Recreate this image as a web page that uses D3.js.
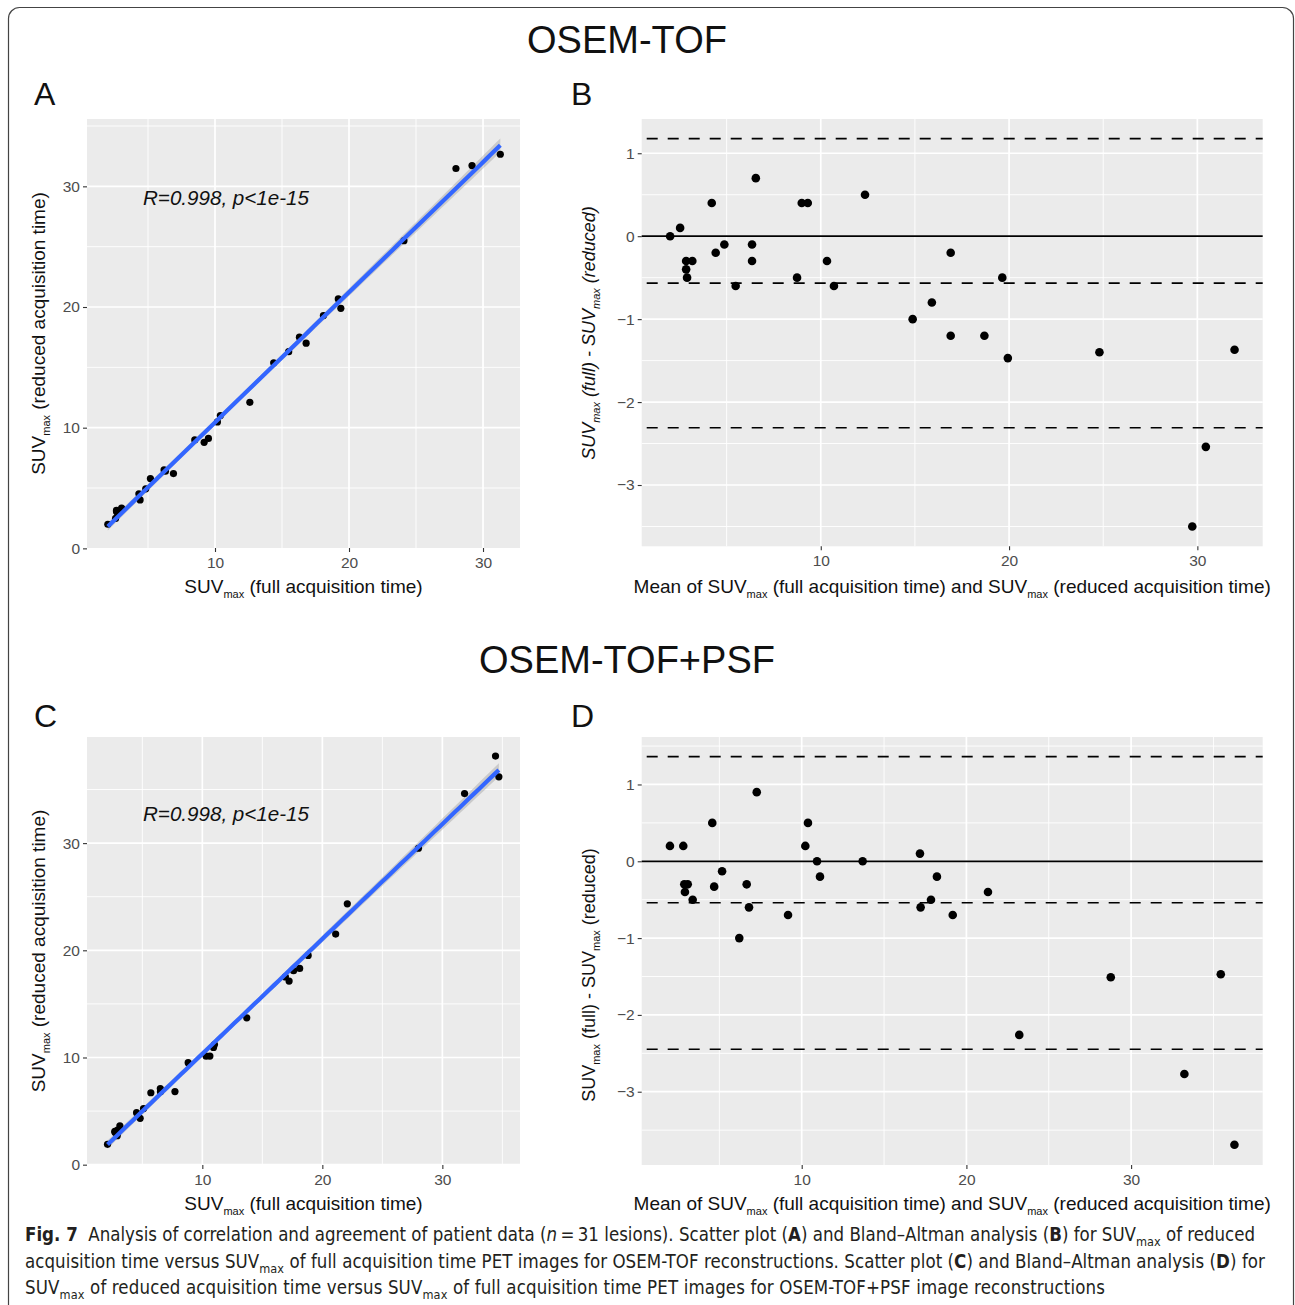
<!DOCTYPE html>
<html><head><meta charset="utf-8">
<script src="https://cdn.jsdelivr.net/npm/d3@7"></script>
<style>body{margin:0;background:#fff}</style>
</head><body><svg id="c" width="1295" height="1305"></svg>
<script>
// ---------------- DATA ----------------
// OSEM-TOF: SUVmax full vs reduced acquisition time (one entry per lesion)
const tofFull    = [2.00,2.58,2.70,3.03,2.65,2.65,4.41,4.32,4.83,5.18,6.90,6.30,6.20,8.49,9.19,9.51,10.18,10.40,12.60,14.38,16.80,19.39,15.50,16.30,18.09,19.20,24.10,31.29,29.18,27.98];
const tofReduced = [2.00,2.48,3.00,3.33,3.05,3.15,4.01,4.52,4.93,5.78,6.20,6.40,6.50,8.99,8.79,9.11,10.48,11.00,12.10,15.38,17.00,19.89,16.30,17.50,19.29,20.67,25.50,32.66,31.72,31.48];
// OSEM-TOF+PSF
const psfFull    = [2.10,2.91,2.72,2.93,2.71,3.13,4.82,4.52,5.10,5.71,7.72,6.51,6.50,8.82,10.32,10.63,10.93,11.01,13.70,17.23,16.92,17.60,18.11,18.82,21.11,22.08,28.01,34.71,31.85,34.43];
const psfReduced = [1.90,2.71,3.02,3.23,3.11,3.63,4.32,4.85,5.23,6.71,6.82,6.81,7.10,9.52,10.12,10.13,10.93,11.21,13.70,17.13,17.52,18.10,18.31,19.52,21.51,24.34,29.52,36.18,34.62,38.12];
// Bland-Altman lines [OSEM-TOF, OSEM-TOF+PSF]
const baBias  = [-0.566, -0.539];
const baUpper = [1.176, 1.362];
const baLower = [-2.310, -2.448];
const corrLabels = ["R=0.998, p<1e-15", "R=0.998, p<1e-15"];
const titles = ["OSEM-TOF", "OSEM-TOF+PSF"];
const letters = [["A","B"],["C","D"]];
const scatterXTicks = [10,20,30];
const scatterYTicks = [0,10,20,30];
const baXTicks = [10,20,30];
const baYTicks = [-3,-2,-1,0,1];

// ---------------- LAYOUT ----------------
const F = "'Liberation Sans', Arial, Helvetica, sans-serif";
const CF = "'Liberation Sans Narrow', 'DejaVu Sans Condensed', 'Liberation Sans', sans-serif";
const rows = [
  {full: tofFull, red: tofReduced,
   sc: {l:87, r:520, t:119, b:548, x:[0.448,32.76], y:[0.03,35.58]},
   ba: {l:641.7, r:1262.7, t:119, b:546.3, x:[0.49,33.47], y:[-3.739,1.413]},
   titleY:53, letterY:105, annY:205, baItalic:true, baLabelCY:333},
  {full: psfFull, red: psfReduced,
   sc: {l:87, r:520, t:737, b:1165, x:[0.39,36.47], y:[-0.03,39.9]},
   ba: {l:641.7, r:1262.7, t:737, b:1165, x:[0.285,37.99], y:[-3.954,1.618]},
   titleY:673, letterY:727, annY:821, baItalic:false, baLabelCY:975}
];

const svg = d3.select("#c");
svg.append("rect").attr("width",1295).attr("height",1305).attr("fill","#fff");
svg.append("rect").attr("x",8.5).attr("y",7.5).attr("width",1285).attr("height",1340)
  .attr("rx",11).attr("fill","none").attr("stroke","#444").attr("stroke-width",1.2);

function isMult(v, s){ return Math.abs(v/s - Math.round(v/s)) < 1e-6; }

function panel(p, xTicks, yTicks){
  const x = d3.scaleLinear().domain(p.x).range([p.l,p.r]);
  const y = d3.scaleLinear().domain(p.y).range([p.b,p.t]);
  const g = svg.append("g");
  g.append("rect").attr("x",p.l).attr("y",p.t).attr("width",p.r-p.l).attr("height",p.b-p.t).attr("fill","#EBEBEB");
  const xs = xTicks[1]-xTicks[0], ys = yTicks[1]-yTicks[0];
  const xl = d3.range(Math.ceil(p.x[0]/(xs/2))*(xs/2), p.x[1], xs/2);
  const yl = d3.range(Math.ceil(p.y[0]/(ys/2))*(ys/2), p.y[1], ys/2);
  g.selectAll(null).data(xl.filter(v=>!isMult(v,xs))).enter().append("line")
    .attr("x1",d=>x(d)).attr("x2",d=>x(d)).attr("y1",p.t).attr("y2",p.b).attr("stroke","#fff").attr("stroke-width",0.9);
  g.selectAll(null).data(yl.filter(v=>!isMult(v,ys))).enter().append("line")
    .attr("y1",d=>y(d)).attr("y2",d=>y(d)).attr("x1",p.l).attr("x2",p.r).attr("stroke","#fff").attr("stroke-width",0.9);
  g.selectAll(null).data(xl.filter(v=>isMult(v,xs))).enter().append("line")
    .attr("x1",d=>x(d)).attr("x2",d=>x(d)).attr("y1",p.t).attr("y2",p.b).attr("stroke","#fff").attr("stroke-width",1.7);
  g.selectAll(null).data(yl.filter(v=>isMult(v,ys))).enter().append("line")
    .attr("y1",d=>y(d)).attr("y2",d=>y(d)).attr("x1",p.l).attr("x2",p.r).attr("stroke","#fff").attr("stroke-width",1.7);
  const fmt = d3.format("d");
  const ax = g.append("g").attr("transform",`translate(0,${p.b})`)
    .call(d3.axisBottom(x).tickValues(xTicks).tickFormat(fmt).tickSize(4).tickPadding(5));
  const ay = g.append("g").attr("transform",`translate(${p.l},0)`)
    .call(d3.axisLeft(y).tickValues(yTicks).tickFormat(fmt).tickSize(4).tickPadding(3));
  [ax,ay].forEach(a=>{
    a.select(".domain").remove();
    a.attr("font-family",F).attr("font-size",15.5);
    a.selectAll("line").attr("stroke","#333").attr("stroke-width",1.1);
    a.selectAll("text").attr("fill","#4D4D4D");
  });
  return {x,y,g};
}

function richText(sel, parts, subSize){
  let shifted = false;
  parts.forEach(([t,k])=>{
    const ts = sel.append("tspan").text(t);
    if(k==='s'){ ts.attr("font-size",subSize).attr("dy", shifted?0:4.5); shifted=true; }
    else { if(shifted){ ts.attr("dy",-4.5); shifted=false; } }
    if(k==='b') ts.attr("font-weight","bold");
    if(k==='i') ts.attr("font-style","italic");
  });
  return sel;
}

rows.forEach((row, ri)=>{
  svg.append("text").attr("x",627).attr("y",row.titleY).attr("text-anchor","middle")
    .attr("font-family",F).attr("font-size",38).attr("fill","#111").text(titles[ri]);
  svg.append("text").attr("x",34).attr("y",row.letterY).attr("font-family",F).attr("font-size",32).attr("fill","#111").text(letters[ri][0]);
  svg.append("text").attr("x",571).attr("y",row.letterY).attr("font-family",F).attr("font-size",32).attr("fill","#111").text(letters[ri][1]);

  // ---- Scatter ----
  const sp = row.sc;
  const S = panel(sp, scatterXTicks, scatterYTicks);
  const pts = row.full.map((f,i)=>({f, r: row.red[i]}));
  const n = pts.length;
  const mx = d3.mean(pts,d=>d.f), my = d3.mean(pts,d=>d.r);
  const sxx = d3.sum(pts,d=>(d.f-mx)**2), sxy = d3.sum(pts,d=>(d.f-mx)*(d.r-my));
  const b = sxy/sxx, a = my - b*mx;
  const s2 = d3.sum(pts,d=>(d.r-a-b*d.f)**2)/(n-2);
  const tcrit = 2.048;
  const [xmin,xmax] = d3.extent(pts,d=>d.f);
  const grid = d3.range(0,81).map(i=>xmin+(xmax-xmin)*i/80);
  const band = grid.map(xv=>{ const yh=a+b*xv; const se=Math.sqrt(s2*(1/n+(xv-mx)**2/sxx)); return {xv, yh, lo:yh-tcrit*se, hi:yh+tcrit*se}; });
  S.g.append("path").datum(band).attr("fill","#999").attr("fill-opacity",0.4)
    .attr("d", d3.area().x(d=>S.x(d.xv)).y0(d=>S.y(d.lo)).y1(d=>S.y(d.hi)));
  S.g.selectAll(null).data(pts).enter().append("circle")
    .attr("cx",d=>S.x(d.f)).attr("cy",d=>S.y(d.r)).attr("r",3.6).attr("fill","#000");
  S.g.append("path").datum(band).attr("fill","none").attr("stroke","#3366FF").attr("stroke-width",4.2)
    .attr("d", d3.line().x(d=>S.x(d.xv)).y(d=>S.y(d.yh)));
  S.g.append("text").attr("x",143).attr("y",row.annY).attr("font-family",F).attr("font-style","italic")
    .attr("font-size",20).attr("fill","#111").attr("textLength",166).attr("lengthAdjust","spacingAndGlyphs").text(corrLabels[ri]);
  richText(svg.append("text").attr("x",(sp.l+sp.r)/2).attr("y",sp.b+45).attr("text-anchor","middle")
    .attr("font-family",F).attr("font-size",19).attr("fill","#111").style("white-space","pre"),
    [["SUV",""],["max","s"],[" (full acquisition time)",""]], 11);
  richText(svg.append("text").attr("transform",`translate(45,${(sp.t+sp.b)/2}) rotate(-90)`).attr("text-anchor","middle")
    .attr("font-family",F).attr("font-size",19).attr("fill","#111").style("white-space","pre"),
    [["SUV",""],["max","s"],[" (reduced acquisition time)",""]], 11);

  // ---- Bland-Altman ----
  const bp = row.ba;
  const B = panel(bp, baXTicks, baYTicks);
  const ba = pts.map(d=>({m:(d.f+d.r)/2, d:d.f-d.r}));
  B.g.append("line").attr("x1",bp.l).attr("x2",bp.r).attr("y1",B.y(0)).attr("y2",B.y(0)).attr("stroke","#000").attr("stroke-width",1.7);
  [baUpper[ri], baBias[ri], baLower[ri]].forEach(v=>{
    B.g.append("line").attr("x1",bp.l).attr("x2",bp.r).attr("y1",B.y(v)).attr("y2",B.y(v))
      .attr("stroke","#000").attr("stroke-width",1.6).attr("stroke-dasharray","11,10").attr("stroke-dashoffset",-5);
  });
  B.g.selectAll(null).data(ba).enter().append("circle")
    .attr("cx",d=>B.x(d.m)).attr("cy",d=>B.y(d.d)).attr("r",4.3).attr("fill","#000");
  richText(svg.append("text").attr("x",(bp.l+bp.r)/2).attr("y",sp.b+45).attr("text-anchor","middle")
    .attr("font-family",F).attr("font-size",19).attr("fill","#111").style("white-space","pre"),
    [["Mean of SUV",""],["max","s"],[" (full acquisition time) and SUV",""],["max","s"],[" (reduced acquisition time)",""]], 11);
  const yl = richText(svg.append("text").attr("transform",`translate(595,${row.baLabelCY}) rotate(-90)`).attr("text-anchor","middle")
    .attr("font-family",F).attr("font-size",18).attr("fill","#111").style("white-space","pre"),
    [["SUV",""],["max","s"],[" (full) - SUV",""],["max","s"],[" (reduced)",""]], 11);
  if(row.baItalic) yl.attr("font-style","italic");
});

// ---------------- CAPTION ----------------
const captionLines = [
  {y:1241, w:1231, parts:[["Fig. 7","b"],["  Analysis of correlation and agreement of patient data (",""],["n","i"],["\u2009=\u200931 lesions). Scatter plot (",""],["A","b"],[") and Bland\u2013Altman analysis (",""],["B","b"],[") for SUV",""],["max","s"],[" of reduced",""]]},
  {y:1268, w:1240, parts:[["acquisition time versus SUV",""],["max","s"],[" of full acquisition time PET images for OSEM-TOF reconstructions. Scatter plot (",""],["C","b"],[") and Bland\u2013Altman analysis (",""],["D","b"],[") for",""]]},
  {y:1294, w:1080, parts:[["SUV",""],["max","s"],[" of reduced acquisition time versus SUV",""],["max","s"],[" of full acquisition time PET images for OSEM-TOF+PSF image reconstructions",""]]}
];
const capTexts = captionLines.map(L=>{
  const t = svg.append("text").attr("x",25).attr("y",L.y).attr("font-family",CF).attr("font-size",19)
    .attr("fill","#231F20").style("white-space","pre");
  richText(t, L.parts, 13);
  return t;
});
// fit caption font size to line 1, then small letter-spacing tweaks for the other lines
const w1 = capTexts[0].node().getComputedTextLength();
const fs = 19 * captionLines[0].w / w1;
capTexts.forEach((t,i)=>{
  t.attr("font-size", fs);
  t.selectAll("tspan").filter(function(){ return this.getAttribute("font-size"); }).attr("font-size", fs*0.68);
  if(i>0){
    const w = t.node().getComputedTextLength();
    const chars = t.text().length;
    t.attr("letter-spacing", ((captionLines[i].w - w)/chars).toFixed(3));
  }
});
</script>
</body></html>
